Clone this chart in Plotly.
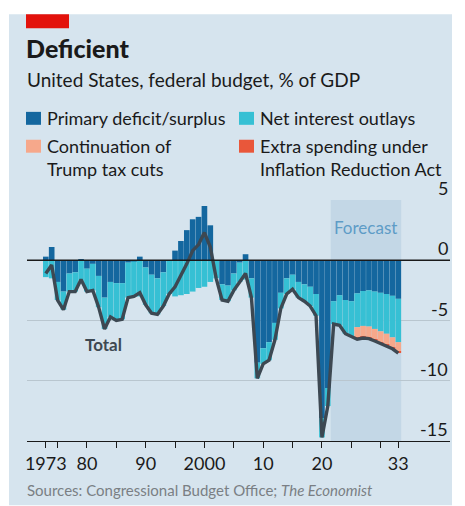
import plotly.graph_objects as go

# ---------------- data ----------------
years = list(range(1973, 2034))

primary = [0.3, 1.1, -1.8, -2.6, -1.1, -1.0, 0.1, -0.7, -0.3, -1.3,
           -3.1, -1.8, -1.9, -1.9, -0.2, -0.1, 0.3, -0.6, -1.2, -1.5,
           -1.0, 0.0, 0.8, 1.6, 2.5, 3.4, 3.6, 4.5, 2.9, 0.0,
           -2.0, -2.1, -1.1, -0.2, 0.5, -1.5, -8.5, -7.3, -6.8, -5.2,
           -2.7, -1.5, -1.2, -1.8, -2.0, -2.2, -2.8, -13.1, -10.6, -3.4,
           -2.9, -3.3, -3.4, -2.75, -2.55, -2.5, -2.6, -2.7, -2.8, -2.95, -3.2]

net_interest = [1.4, 1.5, 1.5, 1.5, 1.5, 1.6, 1.7, 1.9, 2.2, 2.6,
                2.6, 2.9, 3.1, 3.0, 2.9, 2.9, 3.0, 3.1, 3.2, 3.0,
                2.8, 2.8, 3.0, 2.9, 2.8, 2.6, 2.3, 2.2, 1.8, 1.5,
                1.3, 1.3, 1.4, 1.6, 1.6, 1.6, 1.3, 1.3, 1.5, 1.4,
                1.3, 1.3, 1.2, 1.3, 1.4, 1.6, 1.8, 1.6, 1.5, 1.9,
                2.5, 2.8, 2.9, 2.8, 2.9, 3.0, 3.1, 3.2, 3.3, 3.45, 3.6]

trump_years = [2026, 2027, 2028, 2029, 2030, 2031, 2032, 2033]
trump_cuts = [0.9, 0.9, 0.9, 0.9, 0.9, 0.9, 0.85, 0.8]
ira_years = [2026, 2027, 2028, 2029, 2030, 2031, 2032, 2033]
ira_extra = [0.1, 0.1, 0.1, 0.1, 0.1, 0.1, 0.1, 0.1]

total = [-1.1, -0.4, -3.3, -4.1, -2.6, -2.6, -1.6, -2.6, -2.5, -3.9,
         -5.7, -4.7, -5.0, -4.9, -3.1, -3.0, -2.7, -3.7, -4.4, -4.5,
         -3.8, -2.8, -2.2, -1.3, -0.3, 0.8, 1.3, 2.3, 1.1, -1.5,
         -3.3, -3.4, -2.5, -1.8, -1.1, -3.1, -9.8, -8.6, -8.3, -6.6,
         -4.0, -2.8, -2.4, -3.1, -3.4, -3.8, -4.6, -14.7, -12.1, -5.3,
         -5.4, -6.1, -6.3, -6.55, -6.45, -6.5, -6.7, -6.9, -7.1, -7.35, -7.7]

forecast_span = [2021.5, 2033.5]

tick_vals = [1973, 1975, 1980, 1985, 1990, 1995, 2000, 2005, 2010, 2015,
             2020, 2025, 2030, 2033]
tick_text = ["1973", "", "80", "", "90", "", "2000", "", "10", "",
             "20", "", "", "33"]
y_ticks = [-15, -10, -5, 0, 5]

# ---------------- styling ----------------
BG = "#d6e4ee"
SHADE = "#c3d7e6"
C_PRIM = "#14679f"
C_INT = "#36c0d4"
C_TRUMP = "#f6a88b"
C_IRA = "#e9573a"
C_LINE = "#3d4852"
FONT = "Lato"

W, H = 465, 506
L, R, T, B = 27, 450, 199.5, 441.5


def fx(p):
    return (p - L) / (R - L)


def fy(p):
    return (B - p) / (B - T)


fig = go.Figure()
fig.add_bar(x=years, y=primary, marker_color=C_PRIM, marker_line_width=0,
            name="Primary deficit/surplus")
fig.add_bar(x=years, y=[-v for v in net_interest], marker_color=C_INT,
            marker_line_width=0, name="Net interest outlays")
fig.add_bar(x=trump_years, y=[-v for v in trump_cuts], marker_color=C_TRUMP,
            marker_line_width=0, name="Continuation of Trump tax cuts")
fig.add_bar(x=ira_years, y=[-v for v in ira_extra], marker_color=C_IRA,
            marker_line_width=0, name="Extra spending under IRA")
fig.add_scatter(x=years, y=total, mode="lines",
                line=dict(color=C_LINE, width=3.4), name="Total")

shapes = [
    dict(type="rect", xref="paper", yref="paper", x0=fx(9), x1=fx(452),
         y0=fy(13), y1=fy(506), fillcolor=BG, line_width=0, layer="below"),
    dict(type="rect", xref="x", yref="y", x0=forecast_span[0],
         x1=forecast_span[1], y0=-15, y1=5, fillcolor=SHADE, line_width=0,
         layer="below"),
    dict(type="line", xref="paper", yref="y", x0=0, x1=1, y0=0, y1=0,
         line=dict(color="#1a1a1a", width=1.6), layer="above"),
    dict(type="rect", xref="paper", yref="paper", x0=fx(26), x1=fx(69),
         y0=fy(13), y1=fy(27), fillcolor="#e3120b", line_width=0),
]

legend_items = [
    (26, 111, 124, C_PRIM, "Primary deficit/surplus", 117),
    (239, 111, 124, C_INT, "Net interest outlays", 117),
    (26, 139, 152, C_TRUMP, "Continuation of<br>Trump tax cuts", 157),
    (239, 139, 152, C_IRA, "Extra spending under<br>Inflation Reduction Act", 157),
]
annotations = []
for x0, y0, y1, col, txt, ty in legend_items:
    shapes.append(dict(type="rect", xref="paper", yref="paper", x0=fx(x0),
                       x1=fx(x0 + 15), y0=fy(y1), y1=fy(y0), fillcolor=col,
                       line_width=0))
    annotations.append(dict(xref="paper", yref="paper", x=fx(x0 + 19),
                            y=fy(ty), xanchor="left", yanchor="middle",
                            text=txt, showarrow=False, align="left",
                            font=dict(family=FONT, size=18, color="#1a1a1a")))

for v in y_ticks:
    annotations.append(dict(xref="paper", yref="y", x=1, y=v,
                            xanchor="right", yanchor="bottom", yshift=-1,
                            text=f"{v}", showarrow=False,
                            font=dict(family=FONT, size=18, color="#1a1a1a")))

annotations += [
    dict(xref="paper", yref="paper", x=fx(24), y=fy(47), xanchor="left",
         yanchor="middle", text="Deficient", showarrow=False,
         font=dict(family=FONT, size=25, color="#1a1a1a", weight=900)),
    dict(xref="paper", yref="paper", x=fx(25), y=fy(78), xanchor="left",
         yanchor="middle", text="United States, federal budget, % of GDP",
         showarrow=False, font=dict(family=FONT, size=19, color="#1a1a1a")),
    dict(xref="paper", yref="paper", x=fx(25), y=fy(491), xanchor="left",
         yanchor="middle",
         text="Sources: Congressional Budget Office; <i>The Economist</i>",
         showarrow=False, font=dict(family=FONT, size=15, color="#7a7f84")),
    dict(xref="x", yref="y", x=1982.9, y=-7.0, text="<b>Total</b>",
         showarrow=False, font=dict(family=FONT, size=17, color=C_LINE)),
    dict(xref="x", yref="paper", x=2027.5, y=fy(227), yanchor="middle",
         text="Forecast", showarrow=False,
         font=dict(family=FONT, size=17, color="#5e9cc6")),
]

fig.update_layout(
    width=W, height=H,
    margin=dict(l=L, r=W - R, t=T, b=H - B, pad=0),
    paper_bgcolor="white", plot_bgcolor="rgba(0,0,0,0)",
    barmode="relative", bargap=0.04, showlegend=False,
    shapes=shapes, annotations=annotations,
    font=dict(family=FONT, color="#1a1a1a"),
)
fig.update_xaxes(range=[1969.8, 2041.8], tickvals=tick_vals,
                 ticktext=tick_text, ticks="outside", ticklen=6,
                 tickcolor="#1a1a1a", showline=True, linecolor="#1a1a1a",
                 linewidth=1.2, showgrid=False, zeroline=False,
                 tickfont=dict(family=FONT, size=18, color="#1a1a1a"))
fig.update_yaxes(range=[-15, 5], tickvals=y_ticks, showticklabels=False,
                 showgrid=True, gridcolor="#b9c6cf", gridwidth=1,
                 zeroline=False, showline=False, ticks="")

fig.write_html("out.html")
